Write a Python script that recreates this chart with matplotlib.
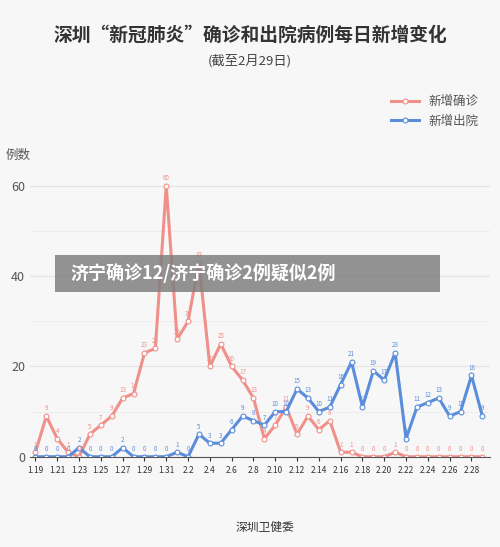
import matplotlib
matplotlib.use("Agg")
import matplotlib.pyplot as plt
from matplotlib.patches import Rectangle

plt.rcParams['font.family'] = ['Noto Sans CJK SC', 'DejaVu Sans']

dates = [f"1.{d}" for d in range(19, 32)] + [f"2.{d}" for d in range(1, 30)]
confirmed = [1,9,4,1,0,5,7,9,13,14,23,24,60,
             26,30,43,20,25,20,17,13,4,7,11,5,9,6,8,1,1,0,0,0,1,0,0,0,0,0,0,0,0]
discharged = [0,0,0,0,2,0,0,0,2,0,0,0,0,
              1,0,5,3,3,6,9,8,7,10,10,15,13,10,11,16,21,11,19,17,23,4,11,12,13,9,10,18,9]

red = '#f0908a'
blue = '#5a8ddc'
bg = '#f7f7f7'

fig = plt.figure(figsize=(5.0, 5.47), dpi=100, facecolor=bg)
ax = fig.add_axes([0.06, 0.165, 0.92, 0.52], facecolor=bg)
x = list(range(len(dates)))
ax.plot(x, confirmed, color=red, lw=2.2, marker='o', ms=3.5, mfc='white', mec=red, mew=0.8, label='新增确诊')
ax.plot(x, discharged, color=blue, lw=2.2, marker='o', ms=3.5, mfc='white', mec=blue, mew=0.8, label='新增出院')
for xi, v in zip(x, confirmed):
    ax.text(xi, v + 0.8, str(v), color=red, fontsize=4.5, ha='center', va='bottom')
for xi, v in zip(x, discharged):
    ax.text(xi, v + 0.8, str(v), color=blue, fontsize=4.5, ha='center', va='bottom')
ax.set_xlim(-0.5, 41.7)
ax.set_ylim(0, 63)
ax.set_yticks([0, 20, 40, 60])
ax.set_xticks(x[::2])
ax.set_xticklabels(dates[::2], fontsize=6)
ax.tick_params(axis='y', labelsize=9, colors='#555555', length=0)
ax.tick_params(axis='x', colors='#333333', length=3)
ax.grid(axis='y', color='#e4e4e4', lw=0.8)
for yv in [10, 30, 50]:
    ax.axhline(yv, color='#ececec', lw=0.6, zorder=0)
for s in ['top', 'right', 'left']:
    ax.spines[s].set_visible(False)
ax.spines['bottom'].set_color('#555555')
ax.legend(loc='upper right', bbox_to_anchor=(1.0, 1.31), frameon=False, fontsize=9,
          labelcolor='#555555', handlelength=2.2)

fig.text(0.5, 0.925, '深圳“新冠肺炎”确诊和出院病例每日新增变化', ha='center', fontsize=13.5,
         fontweight='bold', color='#333333')
fig.text(0.5, 0.882, '(截至2月29日)', ha='center', fontsize=9.5, color='#444444')
fig.text(0.012, 0.71, '例数', fontsize=9, color='#555555')

fig.patches.append(Rectangle((0.11, 0.466), 0.77, 0.068, transform=fig.transFigure,
                             facecolor='#808080', alpha=0.85, zorder=5))
fig.text(0.14, 0.5, '济宁确诊12/济宁确诊2例疑似2例', fontsize=13, fontweight='bold',
         color='white', va='center', zorder=6)
fig.text(0.53, 0.036, '深圳卫健委', fontsize=8.5, color='#333333', ha='center', va='center')
fig.savefig('out.png', dpi=100, facecolor=bg)
